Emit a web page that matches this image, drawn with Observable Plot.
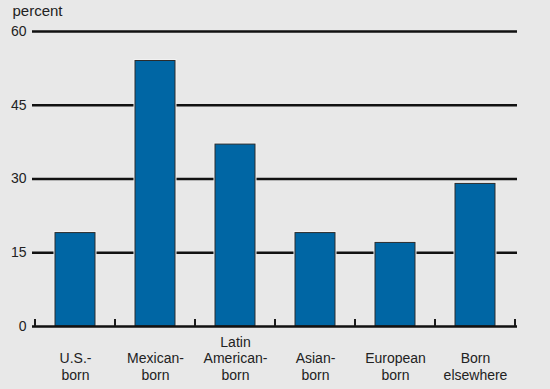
<!DOCTYPE html>
<html>
<head>
<meta charset="utf-8">
<script src="https://cdn.jsdelivr.net/npm/d3@7"></script>
<script src="https://cdn.jsdelivr.net/npm/@observablehq/plot@0.6"></script>
<style>
  html, body { margin: 0; padding: 0; background: #e8e8e8; }
  #chart svg { display: block; }
</style>
</head>
<body>
<div id="chart"></div>
<script>
const categories = ["U.S.-born", "Mexican-born", "Latin American-born", "Asian-born", "European born", "Born elsewhere"];
const labels = ["U.S.-\nborn", "Mexican-\nborn", "Latin\nAmerican-\nborn", "Asian-\nborn", "European\nborn", "Born\nelsewhere"];
const values = [19, 54, 37, 19, 17, 29];
const yTicks = [0, 15, 30, 45, 60];

const data = categories.map((c, i) => ({category: c, label: labels[i], value: values[i]}));

const font = "'Liberation Sans', Arial, Helvetica, sans-serif";

// boundary ticks between categories, positioned from the band scale
const boundaryTicks = (index, scales) => {
  const x = scales.x, y = scales.y;
  const bw = typeof x.bandwidth === "function" ? x.bandwidth() : x.bandwidth;
  const pos = categories.map(c => x(c) - bw / 2);
  pos.push(x(categories[categories.length - 1]) + bw * 1.5);
  const g = d3.create("svg:g");
  const y0 = y(0);
  for (const p of pos) {
    g.append("line")
      .attr("x1", p).attr("x2", p)
      .attr("y1", y0).attr("y2", y0 - 7)
      .attr("stroke", "#1a1a1a").attr("stroke-width", 2);
  }
  return g.node();
};

const chart = Plot.plot({
  width: 550,
  height: 389,
  marginTop: 31,
  marginBottom: 63,
  marginLeft: 32,
  marginRight: 33,
  style: {background: "#e8e8e8", fontFamily: font, fontSize: "14px", color: "#222"},
  x: {type: "band", domain: categories, paddingInner: 0.5, paddingOuter: 0.25, axis: null},
  y: {domain: [0, 60], ticks: yTicks, label: null},
  marks: [
    Plot.ruleY([15, 30, 45, 60], {stroke: "#111", strokeWidth: 2.5}),
    Plot.barY(data, {x: "category", y: "value", fill: "#f2f2f2", stroke: "#f2f2f2", strokeWidth: 3}),
    Plot.barY(data, {x: "category", y: "value", fill: "#0066a4", stroke: "#2b2b2b", strokeWidth: 1}),
    Plot.ruleY([0], {stroke: "#111", strokeWidth: 2.5}),
    boundaryTicks,
    Plot.axisY({ticks: yTicks, tickSize: 0, tickPadding: 6, fontSize: 14, fill: "#222", label: null}),
    Plot.text(data, {x: "category", text: "label", frameAnchor: "bottom", lineAnchor: "bottom", lineHeight: 1.15, dy: 53, fontSize: 14, fill: "#222"}),
    Plot.text(["percent"], {frameAnchor: "top-left", textAnchor: "start", lineAnchor: "bottom", dx: -20, dy: -16, fontSize: 15, fill: "#222"})
  ]
});

document.getElementById("chart").appendChild(chart);
</script>
</body>
</html>
